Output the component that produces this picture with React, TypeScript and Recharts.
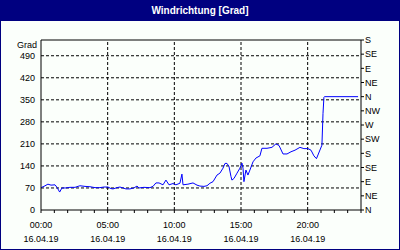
import React from "react";
import { LineChart, Line, XAxis, YAxis, ReferenceLine } from "recharts";

// hours since 00:00 on 16.04.19
const hours = [
  0, 0.22, 0.52, 0.75, 1.05, 1.2, 1.4, 1.57, 1.87, 2.17, 2.55, 2.92, 3.3, 3.67, 4.05, 4.42, 4.72,
  5.02, 5.25, 5.4, 5.7, 5.92, 6.15, 6.37, 6.67, 6.97, 7.2, 7.35, 7.72, 8.17, 8.4, 8.62, 8.85, 9.15,
  9.37, 9.6, 9.9, 10.12, 10.42, 10.57, 10.65, 11.02, 11.4, 11.7, 11.92, 12.22, 12.45, 12.67, 12.9,
  13.2, 13.42, 13.65, 13.8, 13.95, 14.1, 14.25, 14.32, 14.47, 14.7, 14.92, 15.07, 15.15, 15.22,
  15.37, 15.52, 15.67, 15.9, 16.12, 16.42, 16.57, 16.95, 17.32, 17.62, 17.85, 18.15, 18.45, 18.75,
  19.05, 19.42, 19.72, 20.02, 20.25, 20.47, 20.66, 21.07, 21.15, 21.22, 21.26, 23.78,
];
const grad = [
  71, 75, 82, 79, 80, 72, 57, 70, 70, 72, 72, 77, 75, 74, 71, 71, 73,
  73, 68, 67, 71, 73, 70, 67, 67, 70, 76, 70, 72, 71, 75, 86, 86, 80,
  95, 80, 84, 80, 85, 114, 80, 82, 86, 79, 76, 75, 77, 85, 90,
  111, 117, 133, 148, 148, 138, 106, 95, 100, 117, 133, 149, 133, 90,
  127, 111, 127, 153, 165, 172, 196, 196, 199, 210, 205, 178, 178, 185,
  190, 199, 195, 195, 190, 172, 163, 206, 307, 358, 360, 360,
];

const hourTicks = Array.from({ length: 25 }, (_, i) => i);
const gradTicks = [0, 70, 140, 210, 280, 350, 420, 490];
const compassTicks = [0, 45, 90, 135, 180, 225, 270, 315, 360, 405, 450, 495, 540];
const compassNames = ["N", "NE", "E", "SE", "S", "SW", "W", "NW", "N", "NE", "E", "SE", "S"];
const timeLabels = ["00:00", "05:00", "10:00", "15:00", "20:00"];
const dateLabel = "16.04.19";

const data = hours.map((h, i) => ({ h, grad: grad[i] }));

const font = "'Liberation Sans', Arial, sans-serif";
const dash = "3 2";

function TimeTick(props: any) {
  const { x, y, payload } = props;
  const v = payload.value;
  if (v % 5 !== 0 || v >= 24) return null;
  return (
    <g>
      <text x={x} y={y + 14} textAnchor="middle" fontSize={9} fontFamily={font} fill="#000">
        {timeLabels[v / 5]}
      </text>
      <text x={x} y={y + 28} textAnchor="middle" fontSize={9} fontFamily={font} fill="#000">
        {dateLabel}
      </text>
    </g>
  );
}

function CompassTick(props: any) {
  const { x, y, payload } = props;
  const i = compassTicks.indexOf(payload.value);
  return (
    <text x={x} y={y} dy="0.355em" textAnchor="start" fontSize={9} fontFamily={font} fill="#000">
      {compassNames[i]}
    </text>
  );
}

export default function App() {
  return (
    <div
      style={{
        position: "absolute",
        left: 0,
        top: 0,
        width: 400,
        height: 250,
        boxSizing: "border-box",
        border: "1px solid #000080",
        background: "#fbfffb",
        fontFamily: font,
      }}
    >
      <div
        style={{
          position: "absolute",
          left: -1,
          top: -1,
          width: 400,
          height: 21,
          background: "#000080",
          color: "#fff",
          fontWeight: "bold",
          fontSize: 10,
          lineHeight: "21px",
          textAlign: "center",
        }}
      >
        Windrichtung [Grad]
      </div>
      <div style={{ position: "absolute", left: 16, top: 39, fontSize: 9, color: "#000" }}>Grad</div>
      <div style={{ position: "absolute", left: -1, top: -1 }}>
        <LineChart width={400} height={250} data={data} margin={{ top: 40, right: 0, left: 0, bottom: 0 }}>
          <XAxis
            dataKey="h"
            type="number"
            domain={[0, 24]}
            ticks={hourTicks}
            interval={0}
            height={40}
            stroke="#000"
            tickSize={3}
            tickMargin={1}
            tick={<TimeTick />}
          />
          <YAxis
            yAxisId="left"
            type="number"
            domain={[0, 540]}
            ticks={gradTicks}
            interval={0}
            width={41}
            stroke="#000"
            tickLine={false}
            tickSize={0}
            tickMargin={6}
            tick={{ fontSize: 9, fontFamily: font, fill: "#000" }}
          />
          <YAxis
            yAxisId="right"
            type="number"
            orientation="right"
            domain={[0, 540]}
            ticks={compassTicks}
            interval={0}
            width={39}
            stroke="#000"
            tickSize={3}
            tickMargin={1}
            tick={<CompassTick />}
          />
          {gradTicks.slice(1).map((g) => (
            <ReferenceLine key={"g" + g} yAxisId="left" y={g} stroke="#000" strokeDasharray={dash} />
          ))}
          {[5, 10, 15, 20].map((t) => (
            <ReferenceLine key={"t" + t} yAxisId="left" x={t} stroke="#000" strokeDasharray={dash} />
          ))}
          <ReferenceLine yAxisId="left" y={540} stroke="#000" />
          <Line
            yAxisId="right"
            dataKey="grad"
            type="linear"
            stroke="none"
            dot={false}
            activeDot={false}
            legendType="none"
            isAnimationActive={false}
          />
          <Line
            yAxisId="left"
            dataKey="grad"
            type="linear"
            stroke="#0000ff"
            strokeWidth={1}
            dot={false}
            isAnimationActive={false}
          />
        </LineChart>
      </div>
    </div>
  );
}
